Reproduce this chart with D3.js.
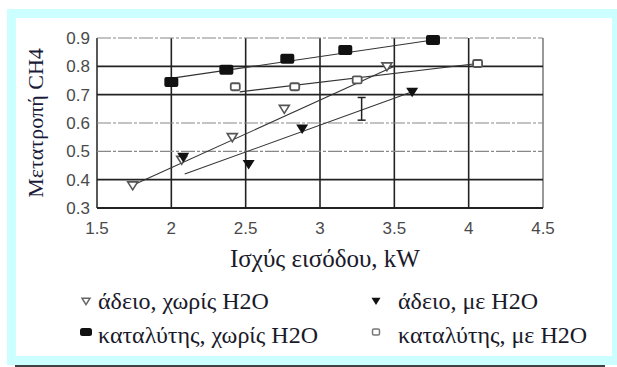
<!DOCTYPE html>
<html>
<head>
<meta charset="utf-8">
<script src="https://cdn.jsdelivr.net/npm/d3@7"></script>
<style>
  html, body { margin: 0; padding: 0; background: #fff; }
  svg { display: block; }
  .serif { font-family: 'Liberation Serif', 'Times New Roman', Times, 'DejaVu Serif', serif; }
  .sans { font-family: 'Liberation Sans', Arial, Helvetica, sans-serif; }
</style>
</head>
<body>
<svg id="chart" width="617" height="367"></svg>
<script>
// x ticks / y ticks
const xTicks = [1.5, 2, 2.5, 3, 3.5, 4, 4.5];
const yTicks = [0.3, 0.4, 0.5, 0.6, 0.7, 0.8, 0.9];

// άδειο, χωρίς H2O (open triangle)
const emptyDryX = [1.74, 2.07, 2.41, 2.76, 3.45];
const emptyDryY = [0.38, 0.47, 0.55, 0.65, 0.80];
// άδειο, με H2O (filled triangle)
const emptyWetX = [2.08, 2.52, 2.88, 3.62];
const emptyWetY = [0.48, 0.455, 0.58, 0.71];
// καταλύτης, χωρίς H2O (filled square)
const catDryX = [2.0, 2.37, 2.78, 3.17, 3.76];
const catDryY = [0.745, 0.788, 0.827, 0.858, 0.893];
// καταλύτης, με H2O (open square)
const catWetX = [2.43, 2.83, 3.25, 4.06];
const catWetY = [0.728, 0.728, 0.752, 0.81];

// trend lines [x0, y0, x1, y1]
const trendEmptyDry = [1.74, 0.38, 3.5, 0.80];
const trendEmptyWet = [2.09, 0.42, 3.62, 0.71];
const trendCatDry = [2.03, 0.76, 3.76, 0.893];
const trendCatWet = [2.46, 0.71, 4.06, 0.81];

// error bar [x, low, high]
const errBar = [3.28, 0.61, 0.69];

const svg = d3.select('#chart');

/*背景*/
svg.append('rect').attr('x', 7).attr('y', 9).attr('width', 610).attr('height', 356).attr('fill', '#ccffff');
svg.append('rect').attr('x', 16).attr('y', 18).attr('width', 596).attr('height', 338).attr('fill', '#ffffff');
svg.append('line').attr('x1', 15).attr('x2', 605).attr('y1', 366).attr('y2', 366)
  .attr('stroke', '#000').attr('stroke-width', 1.5);

const x = d3.scaleLinear().domain([1.5, 4.5]).range([97, 543]);
const y = d3.scaleLinear().domain([0.3, 0.9]).range([208, 38]);

const g = svg.append('g');

/*网格*/
xTicks.forEach(v => {
  const edge = v === 1.5 || v === 4.5;
  g.append('line')
    .attr('x1', x(v)).attr('x2', x(v)).attr('y1', y(0.9)).attr('y2', y(0.3))
    .attr('stroke', v === 4.5 ? '#777' : '#222')
    .attr('stroke-width', edge ? 1.5 : 1.6);
});
yTicks.forEach(v => {
  const light = v === 0.6 || v === 0.5 || v === 0.9;
  g.append('line')
    .attr('x1', x(1.5)).attr('x2', x(4.5)).attr('y1', y(v)).attr('y2', y(v))
    .attr('stroke', light ? '#888' : '#222')
    .attr('stroke-width', light ? 1.2 : 1.8)
    .attr('stroke-dasharray', light ? '14,2,3,2' : null);
});

/*刻度*/
g.selectAll('.xt').data(xTicks).enter().append('text')
  .attr('class', 'sans')
  .attr('x', d => x(d)).attr('y', 234)
  .attr('text-anchor', 'middle')
  .attr('font-size', 17).attr('fill', '#4a4a4a')
  .text(d => d);
g.selectAll('.yt').data(yTicks).enter().append('text')
  .attr('class', 'sans')
  .attr('x', 90).attr('y', d => y(d) + 6)
  .attr('text-anchor', 'end')
  .attr('font-size', 17).attr('fill', '#4a4a4a')
  .text(d => d.toFixed(1));

/*轴标题*/
svg.append('text').attr('class', 'serif').attr('x', 325).attr('y', 267).attr('text-anchor', 'middle')
  .attr('font-size', 25).attr('fill', '#1a1a2a')
  .text('Ισχύς εισόδου, kW');
svg.append('text').attr('class', 'serif').attr('transform', 'translate(43,123) rotate(-90)').attr('text-anchor', 'middle')
  .attr('font-size', 22).attr('fill', '#1a1a3a')
  .text('Μετατροπή CH4');

/*趋势线*/
[trendEmptyDry, trendEmptyWet, trendCatDry, trendCatWet].forEach(t => {
  g.append('line')
    .attr('x1', x(t[0])).attr('y1', y(t[1])).attr('x2', x(t[2])).attr('y2', y(t[3]))
    .attr('stroke', '#333').attr('stroke-width', 1.1);
});

/*误差棒*/
const eb = g.append('g').attr('stroke', '#222').attr('stroke-width', 1.5);
eb.append('line').attr('x1', x(errBar[0])).attr('x2', x(errBar[0])).attr('y1', y(errBar[1])).attr('y2', y(errBar[2]));
eb.append('line').attr('x1', x(errBar[0]) - 4).attr('x2', x(errBar[0]) + 4).attr('y1', y(errBar[1])).attr('y2', y(errBar[1]));
eb.append('line').attr('x1', x(errBar[0]) - 4).attr('x2', x(errBar[0]) + 4).attr('y1', y(errBar[2])).attr('y2', y(errBar[2]));

/*标记*/
function triDown(sel, cx, cy, s) {
  return sel.append('path')
    .attr('d', `M${cx - s},${cy - s * 0.7}L${cx + s},${cy - s * 0.7}L${cx},${cy + s * 0.9}Z`);
}
function zip(a, b) { return a.map((v, i) => [v, b[i]]); }

zip(emptyDryX, emptyDryY).forEach(d => {
  triDown(g, x(d[0]), y(d[1]), 5).attr('fill', '#fff').attr('stroke', '#555').attr('stroke-width', 1.6);
});
zip(emptyWetX, emptyWetY).forEach(d => {
  triDown(g, x(d[0]), y(d[1]), 6).attr('fill', '#111');
});
zip(catDryX, catDryY).forEach(d => {
  g.append('rect').attr('x', x(d[0]) - 7).attr('y', y(d[1]) - 5).attr('width', 14).attr('height', 10)
    .attr('rx', 2).attr('fill', '#111');
});
zip(catWetX, catWetY).forEach(d => {
  g.append('rect').attr('x', x(d[0]) - 4.5).attr('y', y(d[1]) - 3.5).attr('width', 9).attr('height', 7)
    .attr('rx', 1.5).attr('fill', '#fff').attr('stroke', '#555').attr('stroke-width', 1.8);
});

/*图例*/
const legendNames = ['άδειο, χωρίς H2O', 'άδειο, με H2O', 'καταλύτης, χωρίς H2O', 'καταλύτης, με H2O'];
const leg = svg.append('g');
const pos = [[86, 309], [376, 309], [86, 343], [376, 343]];
legendNames.forEach((name, i) => {
  const [lx, ly] = pos[i];
  if (i === 0) triDown(leg, lx, ly - 8, 4).attr('fill', '#fff').attr('stroke', '#666').attr('stroke-width', 1.5);
  if (i === 1) triDown(leg, lx, ly - 8, 4.5).attr('fill', '#111');
  if (i === 2) leg.append('rect').attr('x', lx - 6).attr('y', ly - 15).attr('width', 12).attr('height', 8).attr('rx', 2.5).attr('fill', '#111');
  if (i === 3) leg.append('rect').attr('x', lx - 3.5).attr('y', ly - 14).attr('width', 7).attr('height', 6).attr('rx', 1.5)
    .attr('fill', '#fff').attr('stroke', '#777').attr('stroke-width', 1.5);
  leg.append('text').attr('class', 'serif').attr('x', lx + (i % 2 ? 22 : 12)).attr('y', ly)
    .attr('font-size', 24).attr('fill', '#1a1a2a')
    .text(name);
});
</script>
</body>
</html>
